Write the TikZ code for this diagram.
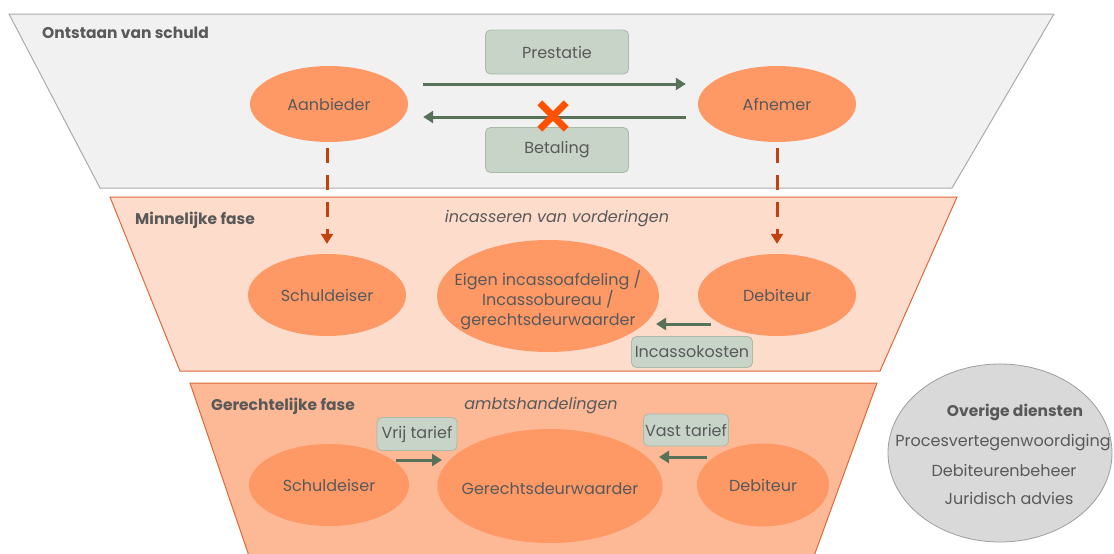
\documentclass[tikz,border=0pt]{standalone}
\usepackage{fontspec}
\setmainfont{Poppins}
\usetikzlibrary{shapes.geometric,arrows.meta}
\definecolor{txt}{HTML}{595959}
\definecolor{ell}{HTML}{FE9966}
\definecolor{trapA}{HTML}{F1F1F1}
\definecolor{trapAl}{HTML}{ABABAB}
\definecolor{trapB}{HTML}{FDDCCC}
\definecolor{trapC}{HTML}{FDB896}
\definecolor{trapl}{HTML}{DB6A38}
\definecolor{boxf}{HTML}{C9D4C9}
\definecolor{boxl}{HTML}{A8BAA8}
\definecolor{grn}{HTML}{587259}
\definecolor{dred}{HTML}{C2410C}
\definecolor{xred}{HTML}{FF5200}
\definecolor{grayf}{HTML}{D9D9D9}
\definecolor{grayl}{HTML}{9E9E9E}
\tikzset{
  every node/.style={text=txt, font=\fontsize{16}{20}\selectfont},
  oval/.style={ellipse, fill=ell, inner sep=0pt},
  ovaltext/.style={align=center, inner sep=0pt},
  tagbox/.style={rectangle, rounded corners=5pt, fill=boxf, draw=boxl, line width=0.8pt, inner sep=0pt, align=center},
  garrow/.style={draw=grn, line width=3pt, -{Triangle[length=10pt,width=12pt]}},
  darrow/.style={draw=dred, line width=3pt, dash pattern=on 15pt off 12pt, -{Triangle[length=10pt,width=12pt]}},
  phase/.style={anchor=west, inner sep=0pt, font=\fontsize{15.5}{19}\selectfont\bfseries},
  sub/.style={font=\fontsize{16}{19}\selectfont\itshape},
}
\begin{document}
\begin{tikzpicture}[x=1pt,y=-1pt]
\clip (0,0) rectangle (1114,554);
\fill[white] (0,0) rectangle (1114,554);
% phases
\draw[fill=trapA, draw=trapAl, line width=1pt] (9,14) -- (1054,14) -- (952,188) -- (100,188) -- cycle;
\draw[fill=trapB, draw=trapl, line width=1pt] (110,197) -- (957,197) -- (880,371) -- (180,371) -- cycle;
\draw[fill=trapC, draw=trapl, line width=1pt] (190,383) -- (877,383) -- (798,600) -- (264,600) -- cycle;
% phase 1
\node[phase] (t1) at (42,33) {Ontstaan van schuld};
\node[oval, minimum width=158pt, minimum height=76pt] (aan) at (329,104) {};
\node[ovaltext] (aant) at (aan) {Aanbieder};
\node[oval, minimum width=158pt, minimum height=76pt] (afn) at (777,104) {};
\node[ovaltext] (afnt) at (afn) {Afnemer};
\node[tagbox, minimum width=143pt, minimum height=44pt] (pres) at (557,52) {Prestatie};
\node[tagbox, minimum width=143pt, minimum height=45pt] (bet) at (557,150) {Betaling};
\draw[garrow] ([xshift=15pt,yshift=20pt]aan.east) -- ([xshift=-12pt,yshift=20pt]afn.west);
\draw[garrow] ([xshift=-12pt,yshift=-13pt]afn.west) -- ([xshift=15pt,yshift=-13pt]aan.east);
\node[inner sep=0pt, minimum size=26pt] (xm) at (553,116) {};
\draw[xred, line width=7pt] (xm.north west) -- (xm.south east) (xm.north east) -- (xm.south west);
% phase 2
\node[phase] (t2) at (135,220) {Minnelijke fase};
\node[sub] (s2) at (557,219) {incasseren van vorderingen};
\node[oval, minimum width=158pt, minimum height=82pt] (sch1) at (327,295) {};
\node[ovaltext] (sch1t) at (sch1) {Schuldeiser};
\node[oval, minimum width=222pt, minimum height=112pt] (eig) at (548,296) {};
\node[ovaltext] (eigt) at ([yshift=-4pt]eig.center) {Eigen incassoafdeling /\\Incassobureau /\\gerechtsdeurwaarder};
\node[oval, minimum width=158pt, minimum height=82pt] (deb1) at (777,295) {};
\node[ovaltext] (deb1t) at (deb1) {Debiteur};
\node[tagbox, minimum width=121pt, minimum height=31pt] (ink) at (692,352) {Incassokosten};
\draw[garrow] ([xshift=-66pt,yshift=-29pt]deb1.center) -- ([xshift=108pt,yshift=-28pt]eig.center);
\draw[darrow, shorten <=6pt, shorten >=10pt] (aan.south -| sch1.north) -- (sch1.north);
\draw[darrow, shorten <=6pt, shorten >=10pt] (afn.south) -- (deb1.north);
% phase 3
\node[phase] (t3) at (211,406) {Gerechtelijke fase};
\node[sub] (s3) at (541,406) {ambtshandelingen};
\node[oval, minimum width=160pt, minimum height=82pt] (sch2) at (329,485) {};
\node[ovaltext] (sch2t) at (sch2) {Schuldeiser};
\node[oval, minimum width=225pt, minimum height=114pt] (gdw) at (550,486) {};
\node[ovaltext] (gdwt) at ([yshift=-3pt]gdw.center) {Gerechtsdeurwaarder};
\node[oval, minimum width=132pt, minimum height=83pt] (deb2) at (763,485) {};
\node[ovaltext] (deb2t) at (deb2) {Debiteur};
\node[tagbox, minimum width=80pt, minimum height=33pt] (vrij) at (417,434) {Vrij tarief};
\node[tagbox, minimum width=85pt, minimum height=32pt] (vast) at (686,430) {Vast tarief};
\draw[garrow] ([xshift=67pt,yshift=25pt]sch2.center) -- ([xshift=-108pt,yshift=26pt]gdw.center);
\draw[garrow] ([xshift=-56pt,yshift=28pt]deb2.center) -- ([xshift=109pt,yshift=29pt]gdw.center);
% other services
\node[ellipse, fill=grayf, draw=grayl, line width=0.8pt, minimum width=224pt, minimum height=178pt, inner sep=0pt] (ov) at (1000,453) {};
\node[font=\fontsize{15.5}{19}\selectfont\bfseries] (ovt) at (1015,412) {Overige diensten};
\node (ov1) at (1003,443) {Procesvertegenwoordiging};
\node (ov2) at (1004,470) {Debiteurenbeheer};
\node (ov3) at (1009,498) {Juridisch advies};
\end{tikzpicture}
\end{document}
